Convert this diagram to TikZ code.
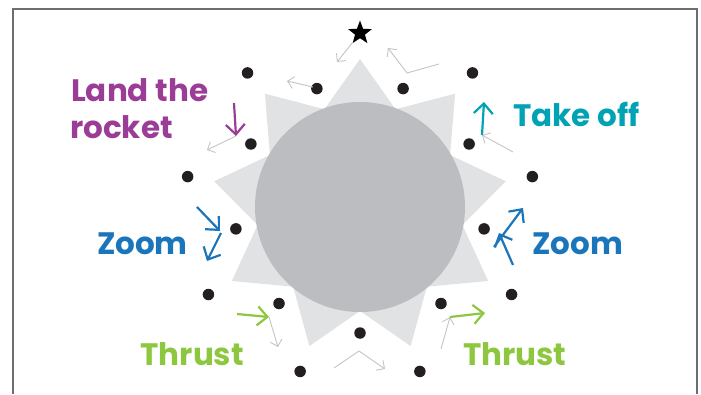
\documentclass[tikz,border=0pt]{standalone}
\usepackage{fontspec}
\setmainfont{Poppins}
\usetikzlibrary{calc,arrows.meta,shapes.geometric}

\definecolor{rimgray}{HTML}{6D6E71}
\definecolor{rayfill}{HTML}{E1E2E3}
\definecolor{sunfill}{HTML}{BCBDC0}
\definecolor{dotblack}{HTML}{231F20}
\definecolor{trailgray}{HTML}{C4C4C6}
\definecolor{landpurple}{HTML}{9B3C97}
\definecolor{taketeal}{HTML}{00A2B4}
\definecolor{zoomblue}{HTML}{1B75BB}
\definecolor{thrustgreen}{HTML}{8DC63F}

\begin{document}
\begin{tikzpicture}[x=1pt, y=1pt,
  dot/.style={circle, fill=dotblack, inner sep=0pt, minimum size=11.5pt},
  trail/.style={draw=trailgray, line width=0.9pt, -{Straight Barb[length=6pt,width=12pt]}},
  move/.style={line width=2.2pt, -{Straight Barb[length=10pt,width=19pt]}},
  lbl/.style={font=\fontsize{31}{37}\selectfont\bfseries, inner sep=0pt}]
  \useasboundingbox (0,0) rectangle (701,394);

  % frame, open at the bottom
  \draw[rimgray, line width=1.3pt] (13,0) -- (13,385) -- (697,385) -- (697,0);

  \coordinate (O) at (360,187);

  \begin{scope}[shift={(O)}]
    % sun rays and disc
    \fill[rayfill] (90:148) -- (70:104) -- (50:148) -- (30:104) -- (10:148)
      -- (-10:104) -- (-30:148) -- (-50:104) -- (-70:148) -- (-90:104)
      -- (-110:148) -- (-130:104) -- (-150:148) -- (-170:104) -- (170:148)
      -- (150:104) -- (130:148) -- (110:104) -- cycle;
    \fill[sunfill] (0,0) circle[radius=105];

    % outer ring
    \node[star, star points=5, star point ratio=2.4, fill=black, inner sep=0pt,
      minimum size=25pt] (goal) at (90:174) {};
    \node[dot] (out1) at (50:175) {};
    \node[dot] (out2) at (10:175) {};
    \node[dot] (out3) at (-30:175) {};
    \node[dot] (out4) at (-70:175) {};
    \node[dot] (out5) at (-110:175) {};
    \node[dot] (out6) at (-150:175) {};
    \node[dot] (out7) at (170:175) {};
    \node[dot] (out8) at (130:175) {};

    % inner ring
    \node[dot] (in1) at (110:126) {};
    \node[dot] (in2) at (70:126) {};
    \node[dot] (in3) at (30:126) {};
    \node[dot] (in4) at (-10:126) {};
    \node[dot] (in5) at (-50:126) {};
    \node[dot] (in6) at (-90:126) {};
    \node[dot] (in7) at (-130:126) {};
    \node[dot] (in8) at (-170:126) {};
    \node[dot] (in9) at (150:126) {};
  \end{scope}

  % ends of the path arrows
  \coordinate (g1a) at (353,352);  \coordinate (g1b) at (337,332);
  \coordinate (g2a) at (313,307);  \coordinate (g2b) at (287,313);
  \coordinate (g3a) at (236,258);  \coordinate (g3b) at (207,244);
  \coordinate (g4a) at (439,330);  \coordinate (g4m) at (407,321);
  \coordinate (g4b) at (388,346);
  \coordinate (g5a) at (513,242);  \coordinate (g5b) at (482,259);
  \coordinate (g6a) at (269,77);   \coordinate (g6b) at (278,47);
  \coordinate (g7a) at (334,26);   \coordinate (g7m) at (359,43);
  \coordinate (g7b) at (385,25);
  \coordinate (g8a) at (441,45);   \coordinate (g8b) at (450,77);

  \draw[trail] (g1a) -- (g1b);
  \draw[trail] (g2a) -- (g2b);
  \draw[trail] (g3a) -- (g3b);
  \draw[trail] (g4a) -- (g4m) -- (g4b);
  \draw[trail] (g5a) -- (g5b);
  \draw[trail] (g6a) -- (g6b);
  \draw[trail] (g7a) -- (g7m) -- (g7b);
  \draw[trail] (g8a) -- (g8b);

  % moves
  \coordinate (landtop) at (234,291);
  \coordinate (taketop) at (484,292);
  \coordinate (zl1) at (197,187);  \coordinate (zl2) at (220,163);
  \coordinate (zl3) at (221,161);  \coordinate (zl4) at (207,133);
  \coordinate (zr1) at (513,129);  \coordinate (zr2) at (499,161);
  \coordinate (zr3) at (494,147);  \coordinate (zr4) at (523,186);
  \coordinate (tl1) at (237,80);
  \coordinate (tr2) at (485,81);

  \draw[move, landpurple] (landtop) -- (g3a);
  \draw[move, taketeal] (g5b) -- (taketop);
  \draw[move, zoomblue] (zl1) -- (zl2);
  \draw[move, zoomblue] (zl3) -- (zl4);
  \draw[move, zoomblue] (zr1) -- (zr2);
  \draw[move, zoomblue] (zr3) -- (zr4);
  \draw[move, thrustgreen] (tl1) -- (g6a);
  \draw[move, thrustgreen] (g8b) -- (tr2);

  % labels
  \node[lbl, landpurple, anchor=base west] (land) at (71,292) {Land the};
  \node[lbl, landpurple, anchor=base west] (rocket) at (70,255) {rocket};
  \node[lbl, taketeal, anchor=base west] (takeoff) at (513,267) {Take off};
  \node[lbl, zoomblue, anchor=base east] (zoomL) at (188,140) {Zoom};
  \node[lbl, zoomblue, anchor=base west] (zoomR) at (532,140) {Zoom};
  \node[lbl, thrustgreen, anchor=base east] (thrustL) at (244,29) {Thrust};
  \node[lbl, thrustgreen, anchor=base west] (thrustR) at (463,29) {Thrust};
\end{tikzpicture}
\end{document}
